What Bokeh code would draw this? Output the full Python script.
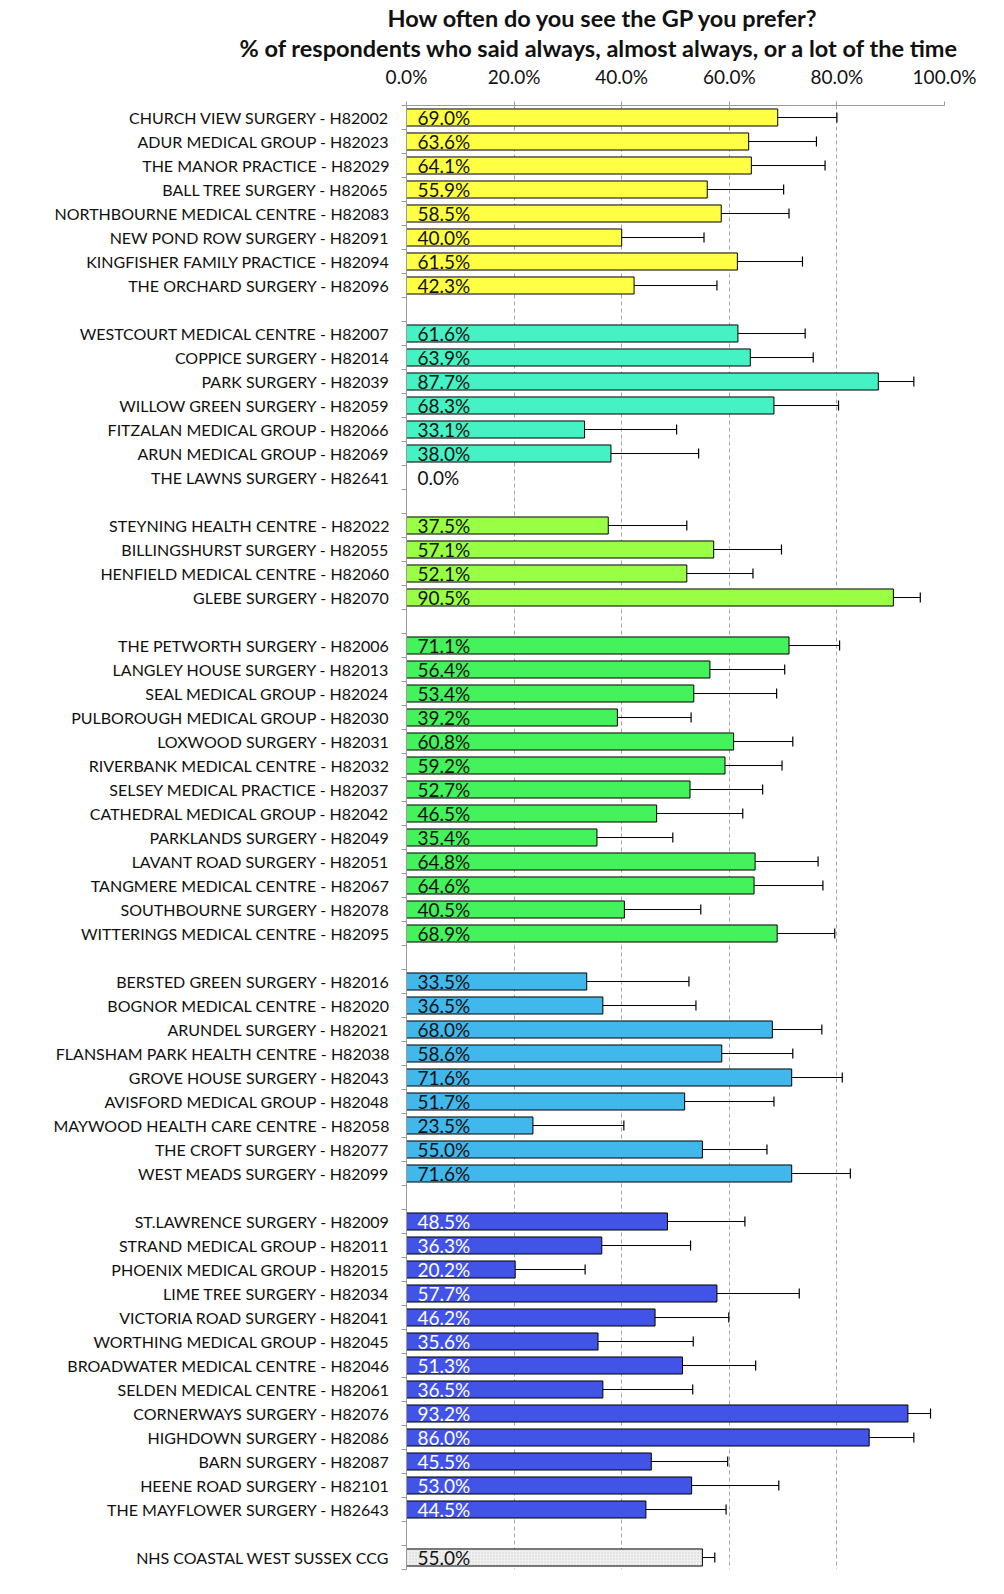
from bokeh.plotting import figure
from bokeh.models import FixedTicker, Range1d, ColumnDataSource, Whisker, TeeHead, Title
from bokeh.core.properties import value
from bokeh.embed import file_html
from bokeh.resources import INLINE

title_line1 = "How often do you see the GP you prefer?"
title_line2 = "% of respondents who said always, almost always,  or a lot of the time"

practices = [
    "CHURCH VIEW SURGERY - H82002", "ADUR MEDICAL GROUP - H82023", "THE MANOR PRACTICE - H82029",
    "BALL TREE SURGERY - H82065", "NORTHBOURNE MEDICAL CENTRE - H82083", "NEW POND ROW SURGERY - H82091",
    "KINGFISHER FAMILY PRACTICE - H82094", "THE ORCHARD SURGERY - H82096",
    "WESTCOURT MEDICAL CENTRE - H82007", "COPPICE SURGERY - H82014", "PARK SURGERY - H82039",
    "WILLOW GREEN SURGERY - H82059", "FITZALAN MEDICAL GROUP - H82066", "ARUN MEDICAL GROUP - H82069",
    "THE LAWNS SURGERY - H82641",
    "STEYNING HEALTH CENTRE - H82022", "BILLINGSHURST SURGERY - H82055", "HENFIELD MEDICAL CENTRE - H82060",
    "GLEBE SURGERY - H82070",
    "THE PETWORTH SURGERY - H82006", "LANGLEY HOUSE SURGERY - H82013", "SEAL MEDICAL GROUP - H82024",
    "PULBOROUGH MEDICAL GROUP - H82030", "LOXWOOD SURGERY - H82031", "RIVERBANK MEDICAL CENTRE - H82032",
    "SELSEY MEDICAL PRACTICE - H82037", "CATHEDRAL MEDICAL GROUP - H82042", "PARKLANDS SURGERY - H82049",
    "LAVANT ROAD SURGERY - H82051", "TANGMERE MEDICAL CENTRE - H82067", "SOUTHBOURNE SURGERY - H82078",
    "WITTERINGS MEDICAL CENTRE - H82095",
    "BERSTED GREEN SURGERY - H82016", "BOGNOR MEDICAL CENTRE - H82020", "ARUNDEL SURGERY - H82021",
    "FLANSHAM PARK HEALTH CENTRE - H82038", "GROVE HOUSE SURGERY - H82043", "AVISFORD MEDICAL GROUP - H82048",
    "MAYWOOD HEALTH CARE CENTRE - H82058", "THE CROFT SURGERY - H82077", "WEST MEADS SURGERY - H82099",
    "ST.LAWRENCE SURGERY - H82009", "STRAND MEDICAL GROUP - H82011", "PHOENIX MEDICAL GROUP - H82015",
    "LIME TREE SURGERY - H82034", "VICTORIA ROAD SURGERY - H82041", "WORTHING MEDICAL GROUP - H82045",
    "BROADWATER MEDICAL CENTRE - H82046", "SELDEN MEDICAL CENTRE - H82061", "CORNERWAYS SURGERY - H82076",
    "HIGHDOWN SURGERY - H82086", "BARN SURGERY - H82087", "HEENE ROAD SURGERY - H82101",
    "THE MAYFLOWER SURGERY - H82643",
    "NHS COASTAL WEST SUSSEX CCG",
]

pct = [
    69.0, 63.6, 64.1, 55.9, 58.5, 40.0, 61.5, 42.3,
    61.6, 63.9, 87.7, 68.3, 33.1, 38.0, 0.0,
    37.5, 57.1, 52.1, 90.5,
    71.1, 56.4, 53.4, 39.2, 60.8, 59.2, 52.7, 46.5, 35.4, 64.8, 64.6, 40.5, 68.9,
    33.5, 36.5, 68.0, 58.6, 71.6, 51.7, 23.5, 55.0, 71.6,
    48.5, 36.3, 20.2, 57.7, 46.2, 35.6, 51.3, 36.5, 93.2, 86.0, 45.5, 53.0, 44.5,
    55.0,
]

ci_low = [
    55.5, 48.6, 47.9, 40.6, 44.7, 26.6, 48.0, 28.2,
    48.2, 51.1, 78.1, 54.5, 19.7, 24.4, None,
    25.4, 44.2, 40.1, 83.1,
    59.2, 41.4, 37.3, 26.9, 48.6, 47.9, 38.8, 31.1, 23.3, 51.0, 49.5, 27.8, 55.7,
    18.7, 22.0, 57.3, 44.1, 59.9, 34.5, 12.2, 42.3, 57.5,
    34.9, 22.7, 11.5, 41.6, 33.5, 21.6, 38.1, 22.7, 86.4, 71.9, 32.4, 36.8, 31.0,
    53.4,
]

ci_high = [
    80.0, 76.2, 77.8, 70.1, 71.1, 55.3, 73.6, 57.7,
    74.1, 75.6, 94.3, 80.3, 50.2, 54.3, None,
    52.1, 69.7, 64.4, 95.5,
    80.5, 70.3, 68.8, 52.9, 71.8, 69.8, 66.2, 62.5, 49.5, 76.5, 77.4, 54.7, 79.6,
    52.5, 53.8, 77.2, 71.8, 81.0, 68.3, 40.4, 67.0, 82.5,
    62.9, 52.8, 33.2, 73.0, 59.9, 53.3, 64.9, 53.2, 97.4, 94.3, 59.7, 69.2, 59.4,
    57.3,
]

group_sizes = [8, 7, 4, 13, 9, 13, 1]
group_colors = ["#FFFF44", "#44F2C4", "#99FF44", "#44F25C", "#40B8EC", "#4254E8", "#F0F0F0"]
group_text_colors = ["#111111", "#111111", "#111111", "#111111", "#111111", "#FFFFFF", "#111111"]

x_ticks = [0, 20, 40, 60, 80, 100]
x_tick_labels = ["0.0%", "20.0%", "40.0%", "60.0%", "80.0%", "100.0%"]

# slot layout: one empty slot between groups
centers, fills, tcolors, hatches = [], [], [], []
slot = 0
for gi, n in enumerate(group_sizes):
    if gi > 0:
        slot += 1
    for _ in range(n):
        centers.append(slot + 0.5)
        fills.append(group_colors[gi])
        tcolors.append(group_text_colors[gi])
        hatches.append("." if gi == len(group_sizes) - 1 else " ")
        slot += 1
n_slots = slot

src = ColumnDataSource(dict(
    y=centers, v=pct, fill=fills, tcol=tcolors, hatch=hatches,
    lab=[f"{v:.1f}%" for v in pct],
))
eb_idx = [i for i in range(len(pct)) if ci_low[i] is not None]
eb_src = ColumnDataSource(dict(
    y=[centers[i] for i in eb_idx],
    lo=[ci_low[i] for i in eb_idx],
    hi=[ci_high[i] for i in eb_idx],
))

p = figure(
    frame_width=538, frame_height=1464,
    min_border_left=406, min_border_right=60, min_border_top=105, min_border_bottom=20,
    x_range=Range1d(0, 100), y_range=Range1d(n_slots, 0),
    x_axis_location="above", output_backend="svg", toolbar_location=None,
    tools="",
)
p.outline_line_color = None
p.background_fill_color = "white"

p.hbar(y="y", left=0, right="v", height=0.71, source=src,
       fill_color="fill", line_color="black", line_width=1,
       hatch_pattern="hatch", hatch_color="#C8C8C8", hatch_scale=3, hatch_alpha=0.8)

p.add_layout(Whisker(source=eb_src, base="y", lower="lo", upper="hi", dimension="width",
                     line_color="black", line_width=1.2,
                     upper_head=TeeHead(size=10, line_color="black", line_width=1.2),
                     lower_head=TeeHead(size=10, line_color="black", line_width=1.2)))

p.text(x=0, y="y", text="lab", source=src, x_offset=11, y_offset=0,
       text_baseline="middle", text_align="left",
       text_font=value("Lato"), text_font_size="19px", text_color="tcol")

# x axis (top)
xa = p.xaxis[0]
xa.ticker = FixedTicker(ticks=x_ticks)
xa.major_label_overrides = {t: l for t, l in zip(x_ticks, x_tick_labels)}
xa.major_label_text_font = "Lato"
xa.major_label_text_font_size = "19px"
xa.major_label_text_color = "#111111"
xa.axis_line_color = "#9A9A9A"
xa.major_tick_line_color = "#9A9A9A"
xa.major_tick_out = 4
xa.major_tick_in = 0
xa.minor_tick_line_color = None
xa.major_label_standoff = 14

# y axis (categories)
ya = p.yaxis[0]
ya.ticker = FixedTicker(ticks=centers, minor_ticks=list(range(n_slots + 1)))
ya.major_label_overrides = {c: name for c, name in zip(centers, practices)}
ya.major_label_text_font = "Lato"
ya.major_label_text_font_size = "16px"
ya.major_label_text_color = "#111111"
ya.axis_line_color = "#9A9A9A"
ya.major_tick_out = 0
ya.major_tick_in = 0
ya.minor_tick_out = 5
ya.minor_tick_in = 0
ya.minor_tick_line_color = "#9A9A9A"
ya.major_label_standoff = 12

p.xgrid.ticker = FixedTicker(ticks=x_ticks)
p.xgrid.grid_line_color = "#A6A6A6"
p.xgrid.grid_line_dash = "4 3"
p.ygrid.grid_line_color = None

# titles: added after the axis, so line 2 sits nearer the frame, line 1 above it
p.add_layout(Title(text=title_line2, align="left", offset=-167, text_font="Lato",
                   text_font_style="bold", text_font_size="23.5px", text_color="#111111",
                   standoff=0), "above")
p.add_layout(Title(text=title_line1, align="left", offset=-19, text_font="Lato",
                   text_font_style="bold", text_font_size="23.5px", text_color="#111111",
                   standoff=0), "above")

open("out.html", "w").write(file_html(p, INLINE))
